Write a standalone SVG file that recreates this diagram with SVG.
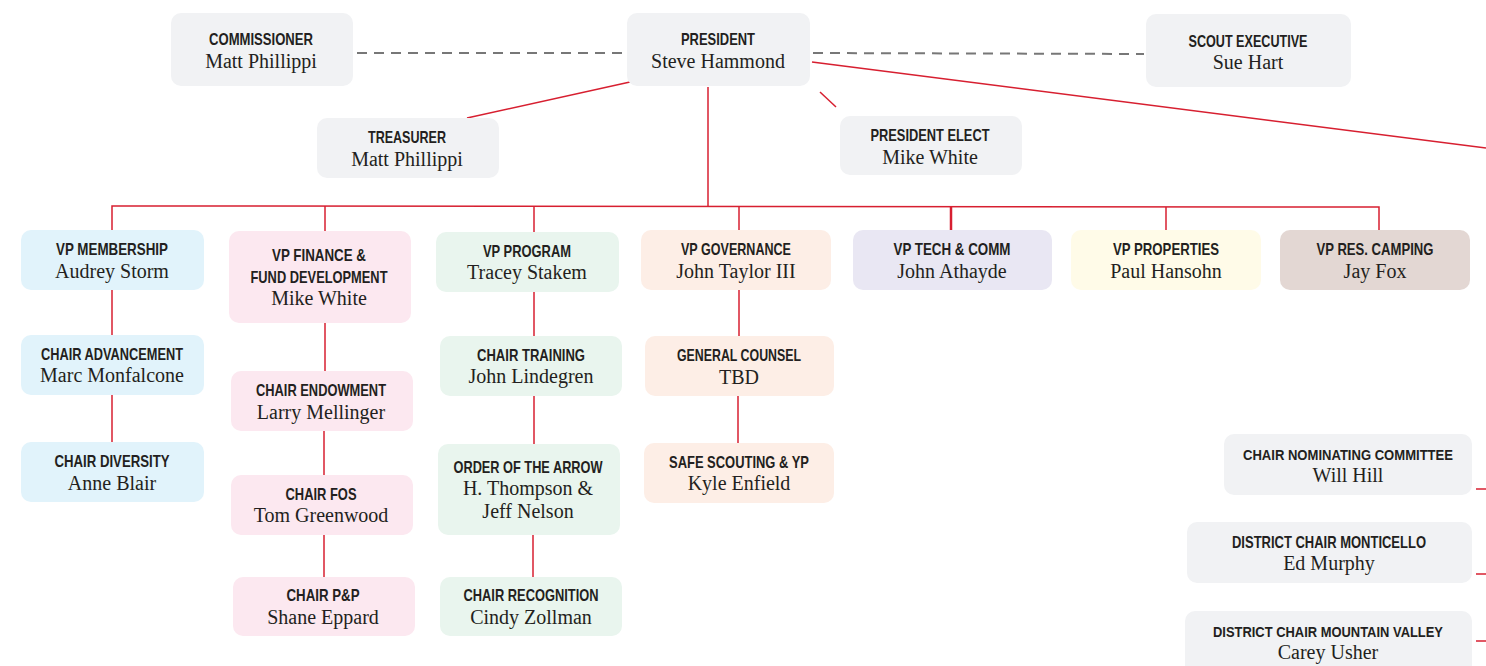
<svg xmlns="http://www.w3.org/2000/svg" width="1486" height="666" viewBox="0 0 1486 666">
<style>
.t{font-family:"Liberation Sans","DejaVu Sans",sans-serif;font-weight:bold;font-size:16.5px;fill:#231f20;text-anchor:middle}
.s{font-size:15px}
.n{font-family:"Liberation Serif","DejaVu Serif",serif;font-size:20px;fill:#231f20;text-anchor:middle}
.gray{fill:#f1f2f4}.blue{fill:#e1f3fb}.pink{fill:#fce8f0}.green{fill:#e9f5ee}.peach{fill:#fdeee6}.lav{fill:#e9e7f3}.yel{fill:#fffbe8}.brown{fill:#e3d7d3}
.r{stroke:#d71f30;stroke-width:1.5;fill:none}
.d{stroke:#777;stroke-width:2;stroke-dasharray:10 7;fill:none}
</style>
<rect width="1486" height="666" fill="#fff"/>
<g id="connectors">
<line class="d" x1="357" y1="53" x2="625" y2="53"/>
<line class="d" x1="813" y1="53" x2="1144" y2="54"/>
<line class="r" x1="630" y1="82" x2="467" y2="118"/>
<line class="r" x1="820" y1="92" x2="836" y2="107"/>
<line class="r" x1="812" y1="62" x2="1486" y2="148"/>
<line class="r" x1="708" y1="87" x2="708" y2="207"/>
<polyline class="r" points="112,230 112,206 1379,207 1379,230"/>
<line class="r" x1="325" y1="206" x2="325" y2="231"/>
<line class="r" x1="534" y1="206" x2="534" y2="232"/>
<line class="r" x1="739" y1="207" x2="739" y2="230"/>
<line class="r" x1="951" y1="207" x2="951" y2="230" style="stroke-width:2.5"/>
<line class="r" x1="1166" y1="207" x2="1166" y2="230"/>
<line class="r" x1="112" y1="290" x2="112" y2="335"/>
<line class="r" x1="112" y1="395" x2="112" y2="442"/>
<line class="r" x1="325" y1="323" x2="325" y2="371"/>
<line class="r" x1="324" y1="431" x2="324" y2="475"/>
<line class="r" x1="324" y1="535" x2="324" y2="577"/>
<line class="r" x1="534" y1="292" x2="534" y2="336"/>
<line class="r" x1="534" y1="396" x2="534" y2="444"/>
<line class="r" x1="533" y1="535" x2="533" y2="577"/>
<line class="r" x1="739" y1="290" x2="739" y2="336"/>
<line class="r" x1="738" y1="396" x2="738" y2="443"/>
<line class="r" x1="1476" y1="489" x2="1486" y2="489"/>
<line class="r" x1="1476" y1="574" x2="1486" y2="574"/>
<line class="r" x1="1476" y1="641" x2="1486" y2="641"/>
</g>
<g id="commissioner"><rect class="gray" x="171" y="13" width="182" height="73" rx="10"/><text class="t" x="261" y="45" textLength="104" lengthAdjust="spacingAndGlyphs">COMMISSIONER</text><text class="n" x="261" y="68">Matt Phillippi</text></g>
<g id="president"><rect class="gray" x="627" y="13" width="183" height="73" rx="10"/><text class="t" x="718" y="45" textLength="74" lengthAdjust="spacingAndGlyphs">PRESIDENT</text><text class="n" x="718" y="68">Steve Hammond</text></g>
<g id="scout-executive"><rect class="gray" x="1146" y="14" width="205" height="73" rx="10"/><text class="t" x="1248" y="47" textLength="119" lengthAdjust="spacingAndGlyphs">SCOUT EXECUTIVE</text><text class="n" x="1248" y="69">Sue Hart</text></g>
<g id="treasurer"><rect class="gray" x="317" y="118" width="182" height="60" rx="10"/><text class="t" x="407" y="143" textLength="78" lengthAdjust="spacingAndGlyphs">TREASURER</text><text class="n" x="407" y="166">Matt Phillippi</text></g>
<g id="president-elect"><rect class="gray" x="840" y="116" width="182" height="59" rx="10"/><text class="t" x="930" y="141" textLength="119" lengthAdjust="spacingAndGlyphs">PRESIDENT ELECT</text><text class="n" x="930" y="164">Mike White</text></g>
<g id="vp-membership"><rect class="blue" x="21" y="230" width="183" height="60" rx="10"/><text class="t" x="112" y="255" textLength="112" lengthAdjust="spacingAndGlyphs">VP MEMBERSHIP</text><text class="n" x="112" y="278">Audrey Storm</text></g>
<g id="vp-finance"><rect class="pink" x="229" y="231" width="182" height="92" rx="10"/><text class="t" x="319" y="261" textLength="94" lengthAdjust="spacingAndGlyphs">VP FINANCE &amp;</text><text class="t" x="319" y="283" textLength="137" lengthAdjust="spacingAndGlyphs">FUND DEVELOPMENT</text><text class="n" x="319" y="305">Mike White</text></g>
<g id="vp-program"><rect class="green" x="436" y="232" width="183" height="60" rx="10"/><text class="t" x="527" y="257" textLength="88" lengthAdjust="spacingAndGlyphs">VP PROGRAM</text><text class="n" x="527" y="279">Tracey Stakem</text></g>
<g id="vp-governance"><rect class="peach" x="641" y="230" width="190" height="60" rx="10"/><text class="t" x="736" y="255" textLength="110" lengthAdjust="spacingAndGlyphs">VP GOVERNANCE</text><text class="n" x="736" y="278">John Taylor III</text></g>
<g id="vp-tech"><rect class="lav" x="853" y="230" width="199" height="60" rx="10"/><text class="t" x="952" y="255" textLength="117" lengthAdjust="spacingAndGlyphs">VP TECH &amp; COMM</text><text class="n" x="952" y="278">John Athayde</text></g>
<g id="vp-properties"><rect class="yel" x="1071" y="230" width="190" height="60" rx="10"/><text class="t" x="1166" y="255" textLength="106" lengthAdjust="spacingAndGlyphs">VP PROPERTIES</text><text class="n" x="1166" y="278">Paul Hansohn</text></g>
<g id="vp-res-camping"><rect class="brown" x="1280" y="230" width="190" height="60" rx="10"/><text class="t" x="1375" y="255" textLength="117" lengthAdjust="spacingAndGlyphs">VP RES. CAMPING</text><text class="n" x="1375" y="278">Jay Fox</text></g>
<g id="chair-advancement"><rect class="blue" x="21" y="335" width="183" height="60" rx="10"/><text class="t" x="112" y="360" textLength="142" lengthAdjust="spacingAndGlyphs">CHAIR ADVANCEMENT</text><text class="n" x="112" y="382">Marc Monfalcone</text></g>
<g id="chair-diversity"><rect class="blue" x="21" y="442" width="183" height="60" rx="10"/><text class="t" x="112" y="467" textLength="115" lengthAdjust="spacingAndGlyphs">CHAIR DIVERSITY</text><text class="n" x="112" y="490">Anne Blair</text></g>
<g id="chair-endowment"><rect class="pink" x="231" y="371" width="182" height="60" rx="10"/><text class="t" x="321" y="396" textLength="130" lengthAdjust="spacingAndGlyphs">CHAIR ENDOWMENT</text><text class="n" x="321" y="419">Larry Mellinger</text></g>
<g id="chair-fos"><rect class="pink" x="231" y="475" width="182" height="60" rx="10"/><text class="t" x="321" y="500" textLength="71" lengthAdjust="spacingAndGlyphs">CHAIR FOS</text><text class="n" x="321" y="522">Tom Greenwood</text></g>
<g id="chair-pp"><rect class="pink" x="233" y="577" width="182" height="59" rx="10"/><text class="t" x="323" y="601" textLength="73" lengthAdjust="spacingAndGlyphs">CHAIR P&amp;P</text><text class="n" x="323" y="624">Shane Eppard</text></g>
<g id="chair-training"><rect class="green" x="440" y="336" width="182" height="60" rx="10"/><text class="t" x="531" y="361" textLength="108" lengthAdjust="spacingAndGlyphs">CHAIR TRAINING</text><text class="n" x="531" y="383">John Lindegren</text></g>
<g id="order-of-the-arrow"><rect class="green" x="438" y="444" width="182" height="91" rx="10"/><text class="t" x="528" y="473" textLength="149" lengthAdjust="spacingAndGlyphs">ORDER OF THE ARROW</text><text class="n" x="528" y="495">H. Thompson &amp;</text><text class="n" x="528" y="518">Jeff Nelson</text></g>
<g id="chair-recognition"><rect class="green" x="440" y="577" width="182" height="59" rx="10"/><text class="t" x="531" y="601" textLength="135" lengthAdjust="spacingAndGlyphs">CHAIR RECOGNITION</text><text class="n" x="531" y="624">Cindy Zollman</text></g>
<g id="general-counsel"><rect class="peach" x="645" y="336" width="189" height="60" rx="10"/><text class="t" x="739" y="361" textLength="124" lengthAdjust="spacingAndGlyphs">GENERAL COUNSEL</text><text class="n" x="739" y="384">TBD</text></g>
<g id="safe-scouting"><rect class="peach" x="644" y="443" width="190" height="60" rx="10"/><text class="t" x="739" y="468" textLength="140" lengthAdjust="spacingAndGlyphs">SAFE SCOUTING &amp; YP</text><text class="n" x="739" y="490">Kyle Enfield</text></g>
<g id="chair-nominating"><rect class="gray" x="1224" y="434" width="248" height="61" rx="10"/><text class="t s" x="1348" y="460" textLength="210" lengthAdjust="spacingAndGlyphs">CHAIR NOMINATING COMMITTEE</text><text class="n" x="1348" y="482">Will Hill</text></g>
<g id="district-monticello"><rect class="gray" x="1187" y="522" width="285" height="61" rx="10"/><text class="t" x="1329" y="548" textLength="194" lengthAdjust="spacingAndGlyphs">DISTRICT CHAIR MONTICELLO</text><text class="n" x="1329" y="570">Ed Murphy</text></g>
<g id="district-mountain-valley"><rect class="gray" x="1185" y="611" width="287" height="70" rx="10"/><text class="t s" x="1328" y="637" textLength="230" lengthAdjust="spacingAndGlyphs">DISTRICT CHAIR MOUNTAIN VALLEY</text><text class="n" x="1328" y="659">Carey Usher</text></g>
</svg>
